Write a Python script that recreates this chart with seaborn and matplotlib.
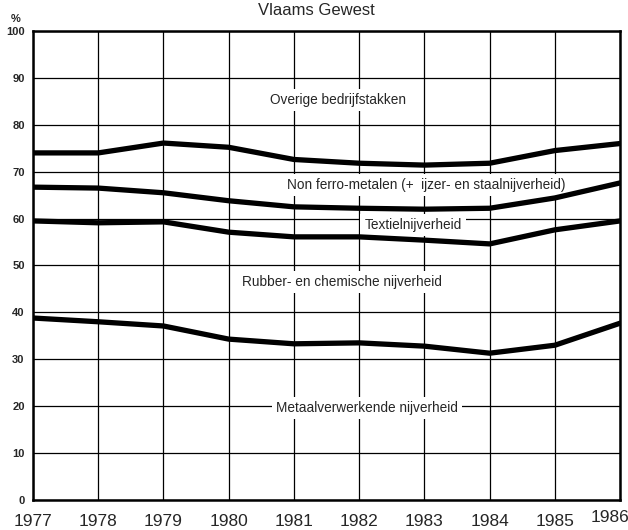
import pandas as pd
import matplotlib.pyplot as plt
import matplotlib.transforms as mtransforms
import seaborn as sns

# Data (cumulative share, %)
years = [1977, 1978, 1979, 1980, 1981, 1982, 1983, 1984, 1985, 1986]
grens_overige = [74.0, 74.0, 76.1, 75.2, 72.6, 71.8, 71.4, 71.8, 74.5, 76.0]
grens_nonferro = [66.7, 66.5, 65.5, 63.8, 62.5, 62.2, 62.0, 62.2, 64.4, 67.6]
grens_textiel = [59.5, 59.1, 59.3, 57.1, 56.1, 56.1, 55.4, 54.6, 57.6, 59.5]
grens_rubber = [38.8, 38.0, 37.1, 34.3, 33.3, 33.5, 32.8, 31.3, 33.0, 37.7]

labels = ["Overige bedrijfstakken",
          "Non ferro-metalen (+  ijzer- en staalnijverheid)",
          "Textielnijverheid",
          "Rubber- en chemische nijverheid",
          "Metaalverwerkende nijverheid"]
label_x = [1981.68, 1983.03, 1982.83, 1981.74, 1982.12]
label_y = [85.3, 67.2, 58.6, 46.5, 19.6]

rows = []
for name, vals in [("a", grens_overige), ("b", grens_nonferro),
                   ("c", grens_textiel), ("d", grens_rubber)]:
    for yr, v in zip(years, vals):
        rows.append({"jaar": yr, "pct": v, "grens": name})
df = pd.DataFrame(rows)

sns.set_style("white")
plt.rcParams['font.family'] = ['Liberation Sans', 'DejaVu Sans']

fig = plt.figure(figsize=(6.28, 5.30), dpi=100)
ax = fig.add_axes([0.0525, 0.0566, 0.935, 0.885])

sns.lineplot(data=df, x="jaar", y="pct", hue="grens",
             palette=["black"] * 4, linewidth=3.8, legend=False, ax=ax,
             zorder=3)

ax.set_xlim(1977, 1986)
ax.set_ylim(0, 100)
ax.set_xticks(years)
ax.set_yticks(range(0, 101, 10))
ax.set_xticklabels([str(y) for y in years], fontsize=12.5)
ax.set_yticklabels([str(v) for v in range(0, 101, 10)], fontsize=8, fontweight="bold")
ax.tick_params(axis="x", length=0, pad=10)
ax.tick_params(axis="y", length=0, pad=6)
ax.grid(True, color="black", linewidth=0.9)
ax.set_axisbelow(True)
for s in ax.spines.values():
    s.set_visible(True)
    s.set_color("black")
    s.set_linewidth(1.8)
ax.set_xlabel("")
ax.set_ylabel("")

# last year label sits a bit left and higher, as in the original
last = ax.get_xticklabels()[-1]
last.set_transform(last.get_transform() +
                   mtransforms.ScaledTranslation(-10 / 100, 4 / 100, fig.dpi_scale_trans))

# labels break the grid but stay under the curves
for txt, x, y in zip(labels, label_x, label_y):
    ax.text(x, y, txt, ha="center", va="center", fontsize=9.8,
            bbox=dict(facecolor="white", edgecolor="none", pad=3), zorder=2)

fig.text(0.503, 0.98, "Vlaams Gewest", ha="center", va="center", fontsize=12)
fig.text(0.025, 0.965, "%", ha="center", va="center", fontsize=8, fontweight="bold")

fig.savefig("out.png", dpi=100)
